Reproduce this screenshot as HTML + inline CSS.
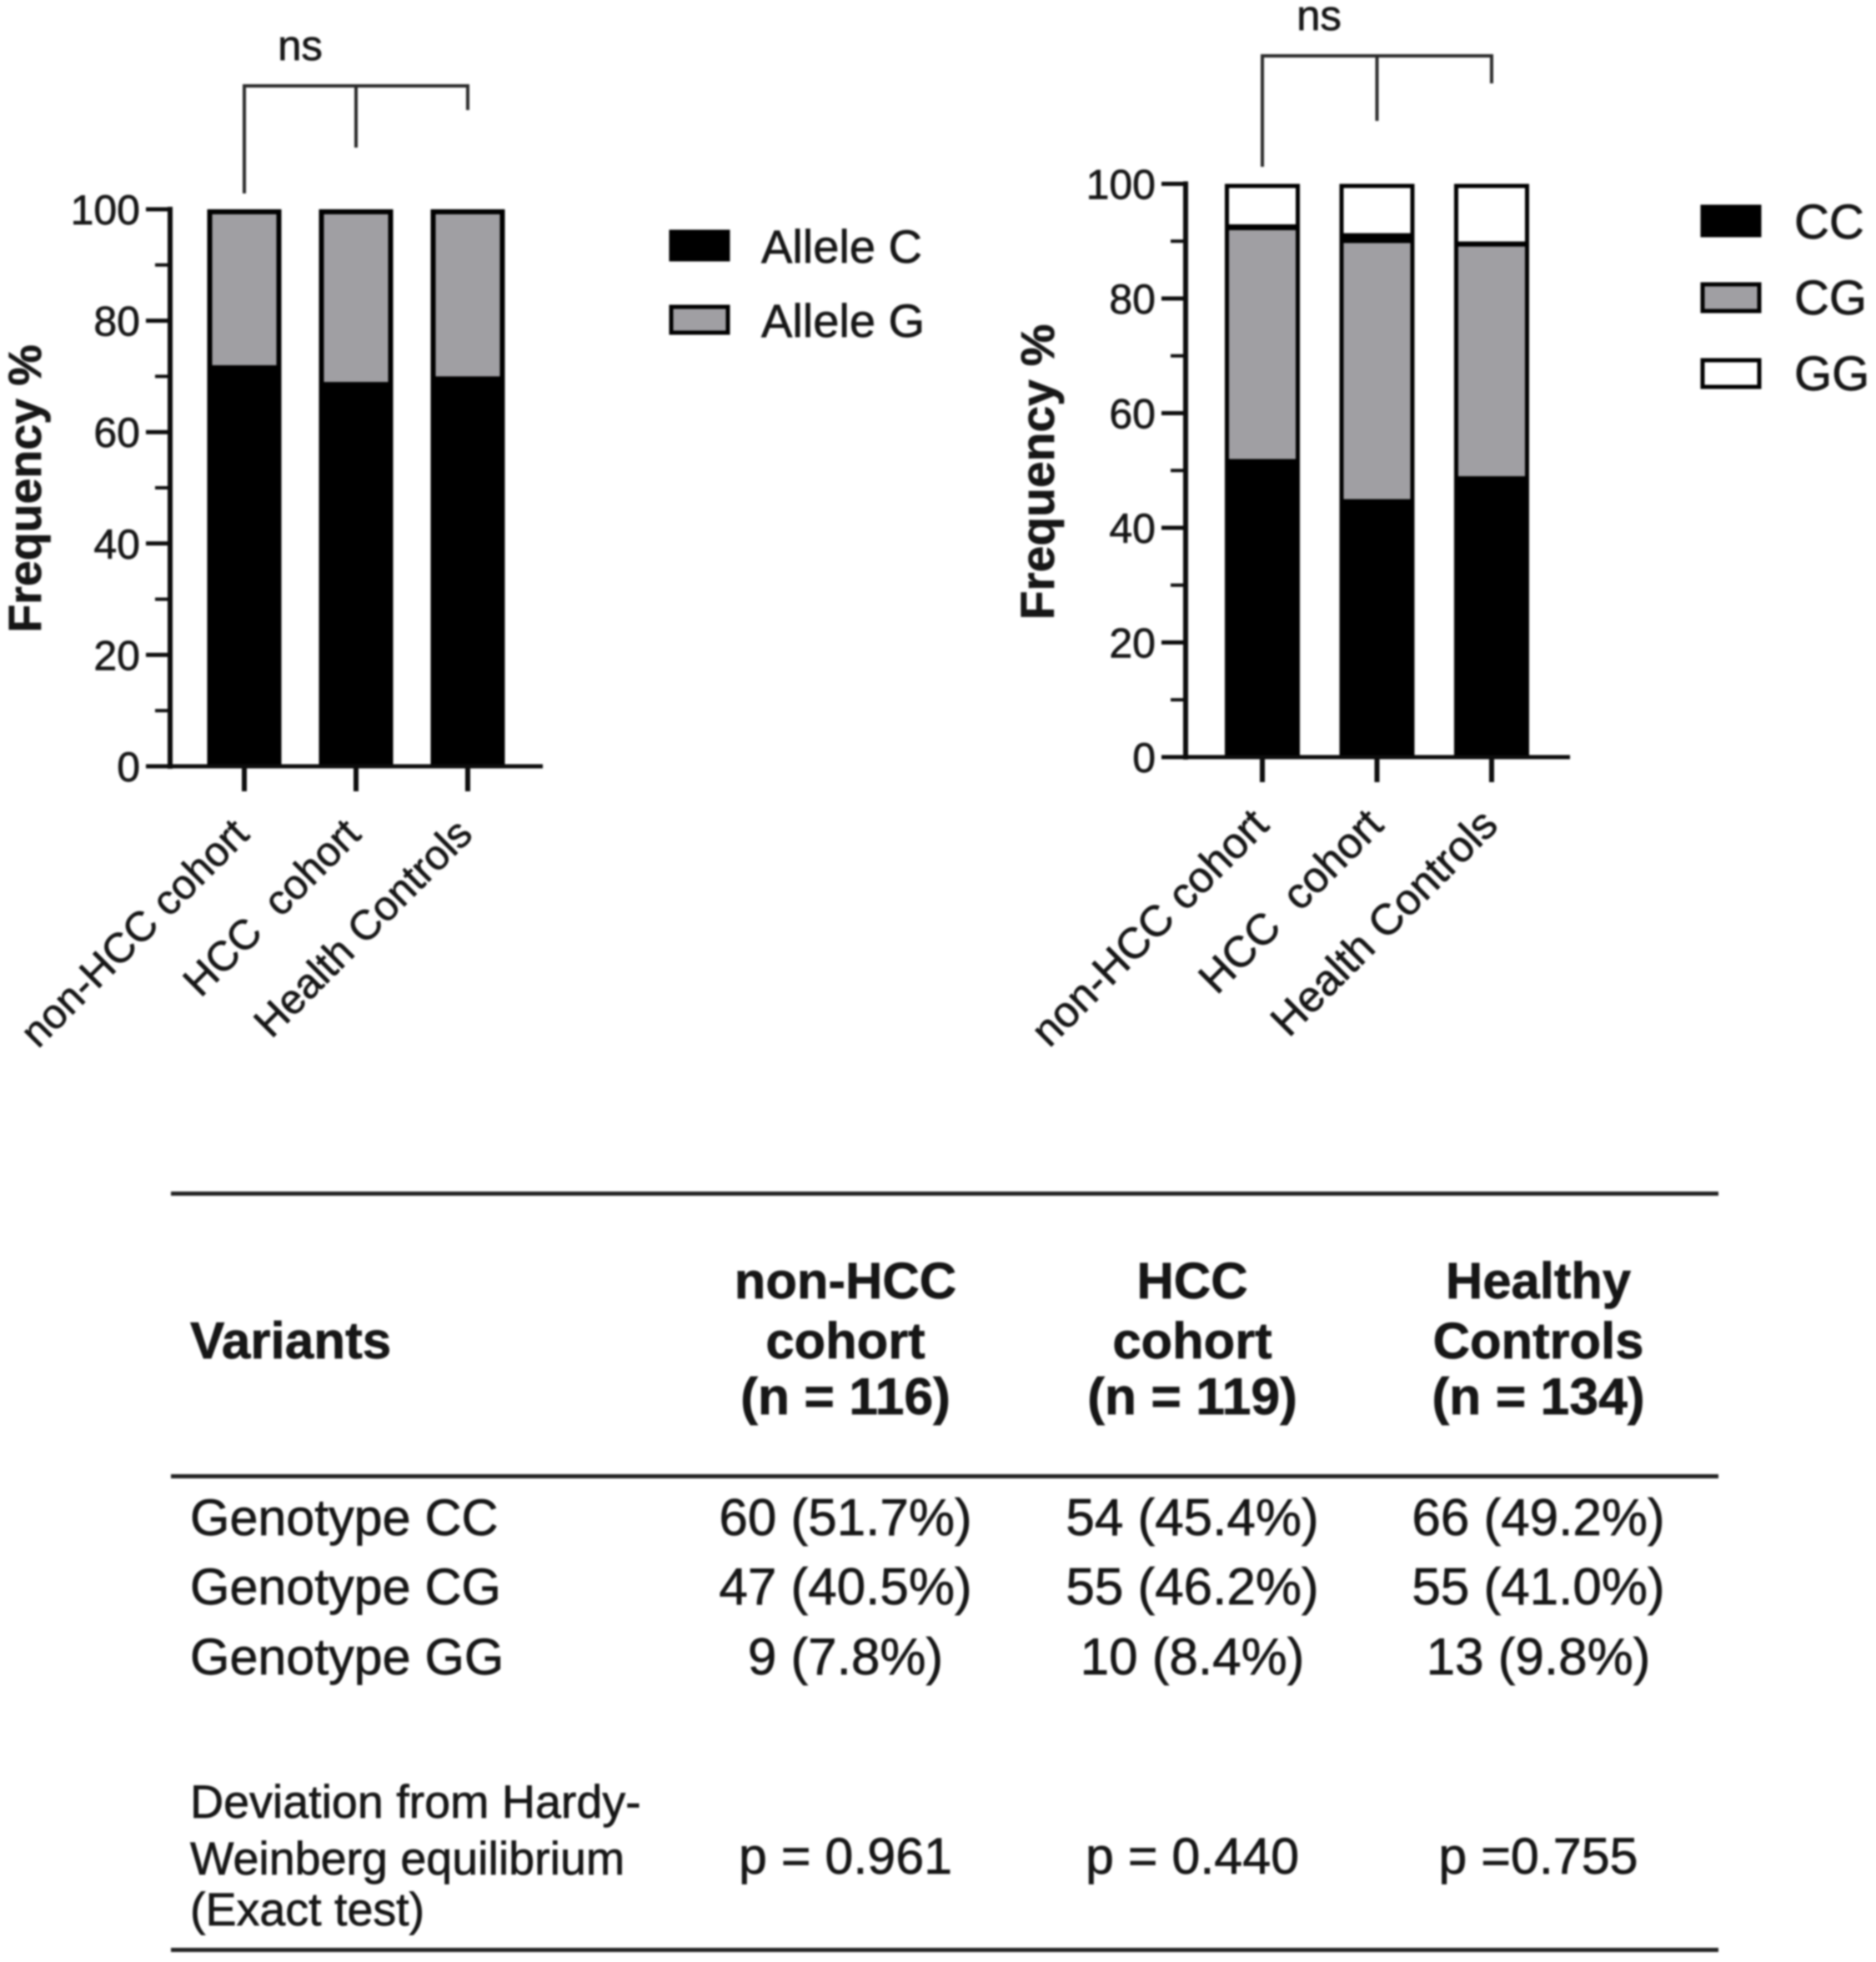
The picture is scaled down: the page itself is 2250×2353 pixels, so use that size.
<!DOCTYPE html>
<html lang="en">
<head>
<meta charset="utf-8">
<title>Allele and genotype frequencies</title>
<style>
html,body{margin:0;padding:0;background:#fff;width:2250px;height:2353px;overflow:hidden}
svg{position:absolute;left:0;top:0;filter:blur(1.1px)}
text{font-family:"Liberation Sans",Arial,sans-serif;fill:#161616;stroke:#161616;stroke-width:.7px}
.b{font-weight:bold}
</style>
</head>
<body>
<svg id="figure" xmlns="http://www.w3.org/2000/svg" width="2250" height="2353" viewBox="0 0 2250 2353">
  <g id="chart-a"></g>
  <g id="chart-b"></g>

  <g>
    <rect x="805" y="278" width="68" height="33" fill="#000" stroke="#000" stroke-width="5"/>
    <text x="913" y="315" font-size="56">Allele C</text>
    <rect x="805" y="368" width="68" height="31" fill="#a09fa3" stroke="#000" stroke-width="5"/>
    <text x="913" y="404" font-size="56">Allele G</text>
  </g>
  <g>
    <rect x="2042" y="248" width="68" height="34" fill="#000" stroke="#000" stroke-width="5"/>
    <text x="2152" y="286" font-size="58">CC</text>
    <rect x="2042" y="341" width="68" height="32" fill="#a09fa3" stroke="#000" stroke-width="5"/>
    <text x="2152" y="377" font-size="58">CG</text>
    <rect x="2042" y="432" width="68" height="32" fill="#fff" stroke="#000" stroke-width="5"/>
    <text x="2152" y="468" font-size="58">GG</text>
  </g>

  <g>
    <line x1="205" y1="1431.5" x2="2061" y2="1431.5" stroke="#222" stroke-width="5"/>
    <line x1="205" y1="1770.5" x2="2061" y2="1770.5" stroke="#222" stroke-width="5"/>
    <line x1="205" y1="2338.5" x2="2061" y2="2338.5" stroke="#222" stroke-width="5"/>

    <text class="b" x="228" y="1629" font-size="62">Variants</text>
    <g class="b" text-anchor="middle" font-size="61.5">
      <text x="1014" y="1557">non-HCC</text><text x="1014" y="1629">cohort</text><text x="1014" y="1696" font-size="62.5">(n = 116)</text>
    </g>
    <g class="b" text-anchor="middle" font-size="61.5">
      <text x="1430" y="1557">HCC</text><text x="1430" y="1629">cohort</text><text x="1430" y="1696" font-size="62.5">(n = 119)</text>
    </g>
    <g class="b" text-anchor="middle" font-size="61.5">
      <text x="1845" y="1557">Healthy</text><text x="1845" y="1629">Controls</text><text x="1845" y="1696" font-size="62.5">(n = 134)</text>
    </g>

    <g font-size="62">
      <text x="228" y="1841" font-size="61">Genotype CC</text>
      <text x="1014" y="1841" text-anchor="middle">60 (51.7%)</text>
      <text x="1430" y="1841" text-anchor="middle">54 (45.4%)</text>
      <text x="1845" y="1841" text-anchor="middle">66 (49.2%)</text>
    </g>
    <g font-size="62">
      <text x="228" y="1924" font-size="61">Genotype CG</text>
      <text x="1014" y="1924" text-anchor="middle">47 (40.5%)</text>
      <text x="1430" y="1924" text-anchor="middle">55 (46.2%)</text>
      <text x="1845" y="1924" text-anchor="middle">55 (41.0%)</text>
    </g>
    <g font-size="62">
      <text x="228" y="2008" font-size="61">Genotype GG</text>
      <text x="1014" y="2008" text-anchor="middle">9 (7.8%)</text>
      <text x="1430" y="2008" text-anchor="middle">10 (8.4%)</text>
      <text x="1845" y="2008" text-anchor="middle">13 (9.8%)</text>
    </g>
    <g>
      <text x="228" y="2180" font-size="55.6">Deviation from Hardy-</text>
      <text x="228" y="2248" font-size="55.6">Weinberg equilibrium</text>
      <text x="228" y="2309" font-size="55.6">(Exact test)</text>
      <text x="1014" y="2247" font-size="61" text-anchor="middle">p = 0.961</text>
      <text x="1430" y="2247" font-size="61" text-anchor="middle">p = 0.440</text>
      <text x="1845" y="2247" font-size="61" text-anchor="middle">p =0.755</text>
    </g>
  </g>
</svg>
<script>
const categories = ["non-HCC cohort", "HCC  cohort", "Health Controls"];
const tickLabels = [0, 20, 40, 60, 80, 100];
const minorTicks = [10, 30, 50, 70, 90];
const alleleC = [72, 69, 70];
const alleleG = [28, 31, 30];
const genotypeCC = [52, 45, 49];
const genotypeCG = [40.65, 45.4, 40.8];
const genotypeDivider = [0.29, 1.0, 0.15];
const genotypeGG = [7.06, 8.6, 10.05];

const GRAY = "#a09fa3";
const NS = "http://www.w3.org/2000/svg";

function svgEl(parent, tag, attrs, txt) {
  const el = document.createElementNS(NS, tag);
  for (const k in attrs) el.setAttribute(k, attrs[k]);
  if (txt !== undefined) el.textContent = txt;
  parent.appendChild(el);
  return el;
}

function drawChart(root, g) {
  const y = v => g.y0 - (g.y0 - g.y100) * v / 100;
  const x = i => g.x0 + g.step * i;

  // stacked bars
  categories.forEach((cat, i) => {
    let base = 0;
    g.series.forEach(s => {
      const v = s.values[i];
      const trim = base === 0 ? g.bw : 0;
      const rect = svgEl(root, "rect", {
        x: x(i) - g.barW / 2 + g.bw / 2,
        y: y(base + v) + g.bw / 2,
        width: g.barW - g.bw,
        height: Math.max(y(base) - y(base + v) - trim, 0),
        fill: s.fill, stroke: "#000", "stroke-width": g.bw
      });
      
      
      base += v;
    });
  });

  // y axis
  const yAxis = svgEl(root, "line", {x1: g.axisX, x2: g.axisX, y1: y(100) - 3, y2: y(0) + 3, stroke: "#0c0c0c", "stroke-width": 6});
  
  

  // x axis
  const xAxis = svgEl(root, "line", {x1: g.tickLeft, x2: g.axisEnd, y1: y(0), y2: y(0), stroke: "#0c0c0c", "stroke-width": 5});
  
  

  tickLabels.forEach(v => {
    const t = svgEl(root, "line", {x1: g.tickLeft, x2: g.axisX, y1: y(v), y2: y(v), stroke: "#0c0c0c", "stroke-width": 5});
    
    
    const l = svgEl(root, "text", {x: g.tickLeft - 7, y: y(v) + 18, "font-size": 50, "text-anchor": "end"}, String(v));
    
    
  });
  minorTicks.forEach(v => {
    const t = svgEl(root, "line", {x1: g.axisX - 18, x2: g.axisX, y1: y(v), y2: y(v), stroke: "#0c0c0c", "stroke-width": 4});
    
    
  });

  categories.forEach((cat, i) => {
    const t = svgEl(root, "line", {x1: x(i), x2: x(i), y1: y(0), y2: y(0) + 30, stroke: "#0c0c0c", "stroke-width": 6});
    
    
    const lx = x(i) + g.labelDx, ly = y(0) + g.labelDy;
    const l = svgEl(root, "text", {x: lx, y: ly, "font-size": g.labelSize, "text-anchor": "end", transform: "rotate(-45 " + lx + " " + ly + ")", style: "white-space:pre"}, cat);
    
    
  });

  // y title
  const title = svgEl(root, "text", {x: g.titleX, y: g.titleY, "font-size": g.titleSize, "font-weight": "bold", "text-anchor": "middle", transform: "rotate(-90 " + g.titleX + " " + g.titleY + ")"}, "Frequency %");
  
  

  // significance bracket
  const pts = [[x(0), g.dropA], [x(1), g.dropB], [x(2), g.dropC]];
  const bar = svgEl(root, "line", {x1: x(0) - 2, x2: x(2) + 2, y1: g.brTop, y2: g.brTop, stroke: "#2a2a2a", "stroke-width": 4});
  
  
  pts.forEach(p => {
    const d = svgEl(root, "line", {x1: p[0], x2: p[0], y1: g.brTop, y2: p[1], stroke: "#2a2a2a", "stroke-width": 4});
    
    
  });
  const ns = svgEl(root, "text", {x: g.nsX, y: g.nsY, "font-size": 51, "text-anchor": "middle"}, "ns");
  
  
}

drawChart(document.getElementById("chart-a"), {
  series: [{values: alleleC, fill: "#000"}, {values: alleleG, fill: GRAY}],
  y0: 919, y100: 251, x0: 293, step: 134, barW: 89, bw: 6,
  axisX: 204, tickLeft: 175, axisEnd: 651,
  labelDx: 8, labelDy: 84, labelSize: 50,
  titleX: 49, titleY: 586, titleSize: 55.5,
  brTop: 103, dropA: 232, dropB: 177, dropC: 132, nsX: 360, nsY: 72
});
drawChart(document.getElementById("chart-b"), {
  series: [{values: genotypeCC, fill: "#000"}, {values: genotypeCG, fill: GRAY}, {values: genotypeDivider, fill: "#000"}, {values: genotypeGG, fill: "#fff"}],
  y0: 908, y100: 220.5, x0: 1514, step: 137.5, barW: 90, bw: 5,
  axisX: 1422, tickLeft: 1393, axisEnd: 1883,
  labelDx: 10, labelDy: 84, labelSize: 52,
  titleX: 1264, titleY: 566, titleSize: 57,
  brTop: 67, dropA: 200, dropB: 145, dropC: 100, nsX: 1582, nsY: 36
});
</script>
</body>
</html>
